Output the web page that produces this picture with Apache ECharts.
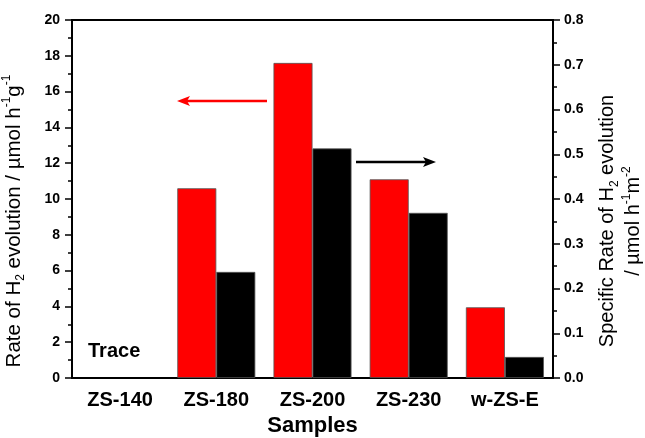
<!DOCTYPE html>
<html><head><meta charset="utf-8">
<script src="https://cdn.jsdelivr.net/npm/echarts@6/dist/echarts.min.js"></script>
<style>html,body{margin:0;padding:0;background:#fff}#c{width:645px;height:438px}</style>
</head><body><div id="c"></div>
<script>
const categories = ['ZS-140', 'ZS-180', 'ZS-200', 'ZS-230', 'w-ZS-E'];
const rateValues = [null, 10.6, 17.6, 11.1, 3.95];          // µmol h-1 g-1 (left axis)
const specificValues = [null, 0.237, 0.513, 0.369, 0.047];  // µmol h-1 m-2 (right axis)
const leftTicks = { min: 0, max: 20, interval: 2 };
const rightTicks = { min: 0, max: 0.8, interval: 0.1 };

const FONT = 'Liberation Sans, Arial, sans-serif';
const chart = echarts.init(document.getElementById('c'));
const nameRich = {
  sub: { fontSize: 12, fontFamily: FONT, color: '#000', verticalAlign: 'bottom', lineHeight: 26 },
  sup: { fontSize: 12, fontFamily: FONT, color: '#000', verticalAlign: 'top', lineHeight: 26 }
};
chart.setOption({
  animation: false,
  grid: { left: 72, right: 92, top: 20, bottom: 60, containLabel: false, outerBoundsMode: 'none',
    show: true, borderColor: '#000', borderWidth: 2 },
  xAxis: [{
    type: 'category', data: categories, position: 'bottom',
    name: 'Samples', nameLocation: 'middle', nameGap: 36,
    nameTextStyle: { fontSize: 22, fontWeight: 'bold', fontFamily: FONT, color: '#000' },
    axisLine: { lineStyle: { color: '#000', width: 2 } },
    axisTick: { alignWithLabel: true, length: 5, lineStyle: { color: '#000', width: 1.5 } },
    axisLabel: { fontSize: 20, fontWeight: 'bold', fontFamily: FONT, color: '#000', margin: 12 },
    splitLine: { show: false }
  }, {
    type: 'category', data: categories, position: 'bottom',
    axisLine: { show: false },
    axisTick: { alignWithLabel: false, length: 5, lineStyle: { color: '#000', width: 1.5 } },
    axisLabel: { show: false }, splitLine: { show: false }
  }],
  yAxis: [{
    type: 'value', position: 'left', min: leftTicks.min, max: leftTicks.max, interval: leftTicks.interval,
    name: 'Rate of H{sub|2} evolution / µmol h{sup|-1}g{sup|-1}', nameLocation: 'middle', nameGap: 45, nameRotate: 90,
    nameTextStyle: { fontSize: 20.5, fontFamily: FONT, color: '#000', lineHeight: 26, padding: [0, 44, 0, 0], rich: nameRich },
    axisLine: { show: true, lineStyle: { color: '#000', width: 2 } },
    axisTick: { show: true, length: 7, lineStyle: { color: '#000', width: 1.5 } },
    minorTick: { show: true, splitNumber: 2, length: 4, lineStyle: { color: '#000', width: 1.5 } },
    axisLabel: { fontSize: 14, fontWeight: 'bold', fontFamily: FONT, color: '#000', margin: 12 },
    splitLine: { show: false }
  }, {
    type: 'value', position: 'right', min: rightTicks.min, max: rightTicks.max, interval: rightTicks.interval,
    name: 'Specific Rate of H{sub|2} evolution\n/ µmol h{sup|-1}m{sup|-2}', nameLocation: 'middle', nameGap: 40, nameRotate: 90,
    nameTextStyle: { fontSize: 20, fontFamily: FONT, color: '#000', lineHeight: 26, padding: [0, 44, 0, 0], rich: nameRich },
    axisLine: { show: true, lineStyle: { color: '#000', width: 2 } },
    axisTick: { show: true, length: 7, lineStyle: { color: '#000', width: 1.5 } },
    minorTick: { show: true, splitNumber: 2, length: 4, lineStyle: { color: '#000', width: 1.5 } },
    axisLabel: { fontSize: 14, fontWeight: 'bold', fontFamily: FONT, color: '#000', margin: 11,
      formatter: v => v.toFixed(1) },
    splitLine: { show: false }
  }],
  series: [{
    type: 'bar', name: 'Rate', xAxisIndex: 0, yAxisIndex: 0, data: rateValues,
    barWidth: 39, barGap: '0%',
    itemStyle: { color: '#ff0000', borderColor: '#555', borderWidth: 0.8 }
  }, {
    type: 'bar', name: 'Specific rate', xAxisIndex: 0, yAxisIndex: 1, data: specificValues,
    barWidth: 39, barGap: '0%',
    itemStyle: { color: '#000000', borderColor: '#555', borderWidth: 0.8 }
  }],
  graphic: [
    { type: 'text', left: 88, top: 341, style: { text: 'Trace', fontSize: 20, fontWeight: 'bold', fontFamily: FONT, fill: '#000' } },
    { type: 'line', shape: { x1: 267, y1: 101, x2: 186, y2: 101 }, style: { stroke: '#ff0000', lineWidth: 2.5 } },
    { type: 'polygon', shape: { points: [[177, 101], [190, 96], [187, 101], [190, 106]] }, style: { fill: '#ff0000' } },
    { type: 'line', shape: { x1: 356, y1: 162, x2: 427, y2: 162 }, style: { stroke: '#000', lineWidth: 2.5 } },
    { type: 'polygon', shape: { points: [[436, 162], [423, 157], [426, 162], [423, 167]] }, style: { fill: '#000' } }
  ]
});
</script></body></html>
